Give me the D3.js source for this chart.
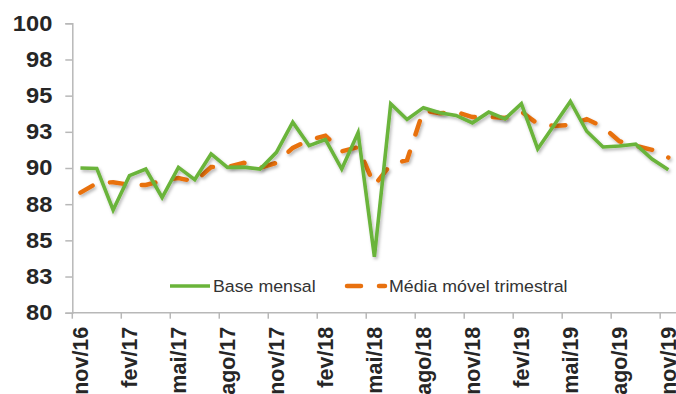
<!DOCTYPE html>
<html>
<head>
<meta charset="utf-8">
<script src="https://cdn.jsdelivr.net/npm/d3@7/dist/d3.min.js"></script>
<style>
  html, body { margin: 0; padding: 0; background: #fff; overflow: hidden; }
  svg { display: block; }
</style>
</head>
<body>
<svg id="chart" width="676" height="394"></svg>
<script>
// Monthly categories, nov/16 .. nov/19
const months = [
  "nov/16","dez/16","jan/17","fev/17","mar/17","abr/17","mai/17","jun/17","jul/17","ago/17","set/17","out/17",
  "nov/17","dez/17","jan/18","fev/18","mar/18","abr/18","mai/18","jun/18","jul/18","ago/18","set/18","out/18",
  "nov/18","dez/18","jan/19","fev/19","mar/19","abr/19","mai/19","jun/19","jul/19","ago/19","set/19","out/19",
  "nov/19"
];

// Base mensal (monthly index)
const baseMensal = [
  90.0, 89.97, 87.1, 89.47, 89.93, 87.96, 90.04, 89.2, 90.97, 90.04, 90.06, 89.93,
  91.08, 93.17, 91.55, 91.97, 89.93, 92.43, 83.86, 94.44, 93.35, 94.17, 93.82, 93.63,
  93.12, 93.86, 93.4, 94.44, 91.32, 92.96, 94.6, 92.54, 91.45, 91.52, 91.65, 90.62,
  89.88
];

// Média móvel trimestral (three-month moving average)
const mediaMovel = [
  88.3, 88.95, 89.02, 88.84, 88.83, 89.12, 89.31, 89.06, 90.07, 90.07, 90.36, 90.01,
  90.36, 91.39, 91.93, 92.23, 91.15, 91.44, 88.8, 90.24, 90.55, 93.99, 93.78, 93.87,
  93.52, 93.54, 93.46, 93.9, 93.05, 92.91, 92.98, 93.38, 92.84, 91.85, 91.53, 91.26,
  90.72
];

// Value-axis ticks and their printed labels
const yTicks = [80, 82.5, 85, 87.5, 90, 92.5, 95, 97.5, 100];
const yTickLabels = ["80", "83", "85", "88", "90", "93", "95", "98", "100"];

const seriesNames = ["Base mensal", "Média móvel trimestral"];
const green = "#6ab43a";
const orange = "#e8710f";
const axisColor = "#b8b8b8";
const textColor = "#262626";

const svg = d3.select("#chart");

const plotLeft = 72.3, plotRight = 676.5, plotTop = 23.3, plotBottom = 312.7;

const x = d3.scaleBand().domain(months).range([plotLeft, plotRight]).paddingInner(0).paddingOuter(0);
const y = d3.scaleLinear().domain([80, 100]).range([plotBottom, plotTop]);
const cx = m => x(m) + x.bandwidth() / 2;

// Drop shadow under the series lines
const defs = svg.append("defs");
const f = defs.append("filter").attr("id", "shadow")
  .attr("x", "-5%").attr("y", "-5%").attr("width", "110%").attr("height", "120%");
f.append("feDropShadow").attr("dx", 1.5).attr("dy", 2.2).attr("stdDeviation", 1.4)
  .attr("flood-color", "#000").attr("flood-opacity", 0.28);

// Y axis
const yAxis = d3.axisLeft(y).tickValues(yTicks).tickSize(7).tickPadding(13)
  .tickFormat((d, i) => yTickLabels[i]);
const gy = svg.append("g").attr("transform", `translate(${plotLeft},0)`).call(yAxis);
gy.select(".domain").attr("stroke", axisColor).attr("stroke-width", 1.5);
gy.selectAll(".tick line").attr("stroke", axisColor).attr("stroke-width", 1.5);
gy.selectAll(".tick text")
  .attr("fill", textColor)
  .style("font-family", "Liberation Sans, Arial, sans-serif")
  .style("font-size", "21.5px").style("font-weight", "bold")
  .each(function () {
    const t = d3.select(this);
    const xx = +t.attr("x");
    t.attr("x", null).attr("transform", `translate(${xx},0) scale(1.1,1)`);
  });

// X axis: ticks every three months at category boundaries, labels at category centres
const labelled = months.filter((m, i) => i % 3 === 0);
const gx = svg.append("g");
gx.append("line")
  .attr("x1", plotLeft).attr("x2", plotRight)
  .attr("y1", plotBottom).attr("y2", plotBottom)
  .attr("stroke", axisColor).attr("stroke-width", 1.5);
gx.selectAll("line.tick").data(labelled).join("line").attr("class", "tick")
  .attr("x1", d => x(d)).attr("x2", d => x(d))
  .attr("y1", plotBottom).attr("y2", plotBottom + 6)
  .attr("stroke", axisColor).attr("stroke-width", 1.5);
gx.selectAll("text").data(labelled).join("text")
  .attr("transform", d => `translate(${cx(d)},${plotBottom + 14}) rotate(-90)`)
  .attr("text-anchor", "end")
  .attr("dy", "0.35em")
  .attr("fill", textColor)
  .style("font-family", "Liberation Sans, Arial, sans-serif")
  .style("font-size", "21.5px").style("font-weight", "bold")
  .text(d => d);

// Series lines
const line = d3.line().x((d, i) => cx(months[i])).y(d => y(d));

svg.append("path").datum(mediaMovel)
  .attr("d", line)
  .attr("fill", "none")
  .attr("stroke", orange).attr("stroke-width", 4.5)
  .attr("stroke-dasharray", "14,18").attr("stroke-linecap", "round")
  .attr("filter", "url(#shadow)");

svg.append("path").datum(baseMensal)
  .attr("d", line)
  .attr("fill", "none")
  .attr("stroke", green).attr("stroke-width", 3.6)
  .attr("stroke-linejoin", "miter")
  .attr("filter", "url(#shadow)");

// Legend
const legY = 286;
const leg = svg.append("g");
leg.append("line").attr("x1", 170).attr("x2", 210).attr("y1", legY).attr("y2", legY)
  .attr("stroke", green).attr("stroke-width", 3.6);
leg.append("text").attr("transform", `translate(213,${legY}) scale(1.09,1)`).attr("dy", "0.36em")
  .attr("fill", "#333")
  .style("font-family", "Liberation Sans, Arial, sans-serif").style("font-size", "16.3px")
  .text(seriesNames[0]);
leg.append("line").attr("x1", 347).attr("x2", 385).attr("y1", legY).attr("y2", legY)
  .attr("stroke", orange).attr("stroke-width", 4.5)
  .attr("stroke-dasharray", "14,18").attr("stroke-linecap", "round");
leg.append("text").attr("transform", `translate(389,${legY}) scale(1.09,1)`).attr("dy", "0.36em")
  .attr("fill", "#333")
  .style("font-family", "Liberation Sans, Arial, sans-serif").style("font-size", "16.3px")
  .text(seriesNames[1]);
</script>
</body>
</html>
